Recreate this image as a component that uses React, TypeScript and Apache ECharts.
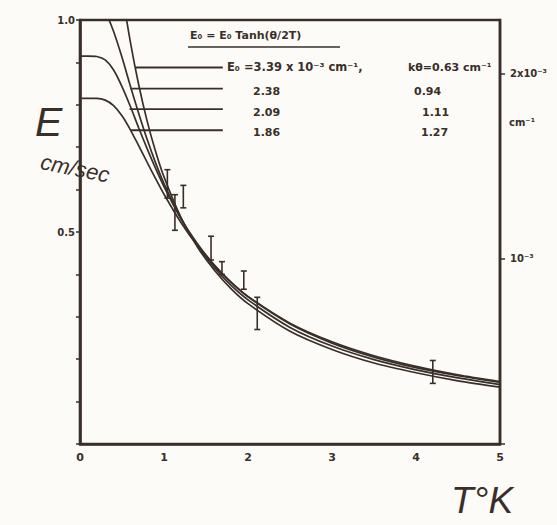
import React, { useEffect, useRef } from "react";
import * as echarts from "echarts";

const INK = "#3a2f28";
const BG = "#fcfbf8";

// temperatures (K) at which the fitted curves were read
const temps = [0, 0.1, 0.2, 0.3, 0.4, 0.5, 0.6, 0.7, 0.8, 0.9, 1.0, 1.2, 1.4, 1.6, 1.8, 2.0, 2.5, 3.0, 3.5, 4.0, 4.5, 5.0];
// E (cm/sec) for the four fitted curves
const curve339 = [1.485, 1.485, 1.453, 1.347, 1.206, 1.068, 0.948, 0.846, 0.761, 0.69, 0.63, 0.535, 0.464, 0.41, 0.366, 0.331, 0.266, 0.223, 0.191, 0.168, 0.149, 0.134];
const curve238 = [1.042, 1.042, 1.04, 1.019, 0.973, 0.912, 0.844, 0.779, 0.718, 0.663, 0.614, 0.532, 0.468, 0.416, 0.374, 0.34, 0.275, 0.231, 0.199, 0.175, 0.156, 0.14];
const curve209 = [0.915, 0.915, 0.914, 0.906, 0.882, 0.843, 0.796, 0.745, 0.696, 0.65, 0.607, 0.532, 0.472, 0.422, 0.381, 0.347, 0.283, 0.238, 0.205, 0.18, 0.161, 0.145];
const curve186 = [0.815, 0.815, 0.815, 0.811, 0.798, 0.774, 0.741, 0.703, 0.664, 0.626, 0.589, 0.523, 0.467, 0.421, 0.381, 0.348, 0.285, 0.241, 0.208, 0.183, 0.163, 0.147];

// measured points: T, low, high
const pointT = [1.04, 1.13, 1.23, 1.56, 1.69, 1.95, 2.11, 4.2];
const pointLow = [0.58, 0.504, 0.557, 0.434, 0.4, 0.365, 0.27, 0.143];
const pointHigh = [0.647, 0.588, 0.61, 0.49, 0.43, 0.408, 0.346, 0.197];

// legend leader lines (E level, start T, end T)
const leaderE = [0.888, 0.838, 0.79, 0.74];
const leaderStart = [0.66, 0.6, 0.59, 0.6];
const leaderEnd = 1.7;

const xTicks = ["0", "1", "2", "3", "4", "5"];

export default function App() {
  const ref = useRef<HTMLDivElement>(null);
  useEffect(() => {
    document.body.style.margin = "0";
    const chart = echarts.init(ref.current!, undefined, { renderer: "svg" });
    const curves = [curve339, curve238, curve209, curve186];
    const curveSeries = curves.map((c) => ({
      type: "line",
      data: temps.map((t, i) => [t, c[i]]),
      smooth: 0.25,
      showSymbol: false,
      lineStyle: { color: INK, width: 1.7 },
      clip: true,
      silent: true,
    }));
    const leaderSeries = leaderE.map((e, i) => ({
      type: "line",
      data: [
        [leaderStart[i], e],
        [leaderEnd, e],
      ],
      showSymbol: false,
      lineStyle: { color: INK, width: 1.8 },
      silent: true,
    }));
    const errData = pointT.map((t, i) => [t, pointLow[i], pointHigh[i]]);
    const font = (s: number, w = "bold") => `${w} ${s}px "DejaVu Sans"`;
    const hand = (s: number) => `italic ${s}px "Liberation Sans"`;
    const txt = (text: string, x: number, y: number, f: string, extra: any = {}) => ({
      type: "text",
      x,
      y,
      ...extra,
      style: { text, font: f, fill: INK, textVerticalAlign: "middle", ...(extra.style || {}) },
    });
    chart.setOption({
      animation: false,
      backgroundColor: BG,
      grid: { left: 80, right: 57, top: 20, bottom: 81, show: true, borderColor: INK, borderWidth: 2.6, backgroundColor: "transparent" },
      xAxis: {
        type: "value",
        min: 0,
        max: 5,
        interval: 1,
        axisLine: { show: true, lineStyle: { color: INK, width: 2.6 } },
        axisTick: { show: false },
        splitLine: { show: false },
        axisLabel: { color: INK, fontSize: 11, fontWeight: "bold", fontFamily: "DejaVu Sans", margin: 8, formatter: (v: number) => xTicks[Math.round(v)] ?? "" },
      },
      yAxis: [
        {
          type: "value",
          min: 0,
          max: 1,
          interval: 0.1,
          axisLine: { show: true, lineStyle: { color: INK, width: 2.6 } },
          axisTick: { show: true, length: 4, lineStyle: { color: INK, width: 1.5 } },
          splitLine: { show: false },
          axisLabel: {
            color: INK,
            fontSize: 10,
            fontWeight: "bold",
            fontFamily: "DejaVu Sans",
            margin: 5,
            formatter: (v: number) => (Math.abs(v - 0.5) < 1e-6 ? "0.5" : Math.abs(v - 1) < 1e-6 ? "1.0" : ""),
          },
        },
        {
          type: "value",
          position: "right",
          min: 0,
          max: 0.00229,
          interval: 0.001,
          axisLine: { show: true, lineStyle: { color: INK, width: 2.4 } },
          axisTick: { show: true, length: 5, lineStyle: { color: INK, width: 1.5 } },
          splitLine: { show: false },
          axisLabel: {
            color: INK,
            fontSize: 10,
            fontWeight: "bold",
            fontFamily: "DejaVu Sans",
            margin: 10,
            showMaxLabel: false,
            formatter: (v: number) => (Math.abs(v - 0.001) < 1e-9 ? "10⁻³" : Math.abs(v - 0.002) < 1e-9 ? "2x10⁻³" : ""),
          },
        },
      ],
      series: [
        ...curveSeries,
        ...leaderSeries,
        {
          type: "custom",
          data: errData,
          silent: true,
          renderItem: (params: any, api: any) => {
            const t = api.value(0);
            const lo = api.coord([t, api.value(1)]);
            const hi = api.coord([t, api.value(2)]);
            const st = { stroke: INK, lineWidth: 1.6 };
            return {
              type: "group",
              children: [
                { type: "line", shape: { x1: lo[0], y1: lo[1], x2: hi[0], y2: hi[1] }, style: st },
                { type: "line", shape: { x1: lo[0] - 3, y1: lo[1], x2: lo[0] + 3, y2: lo[1] }, style: st },
                { type: "line", shape: { x1: hi[0] - 3, y1: hi[1], x2: hi[0] + 3, y2: hi[1] }, style: st },
              ],
            };
          },
        },
      ],
      graphic: [
        txt("E₀ = E₀ Tanh(θ/2T)", 190, 35, font(11)),
        { type: "line", shape: { x1: 188, y1: 47, x2: 340, y2: 47 }, style: { stroke: INK, lineWidth: 1.5 } },
        txt("E₀ =3.39 x 10⁻³ cm⁻¹,", 227, 67, font(11.5)),
        txt("kθ=0.63 cm⁻¹", 408, 67, font(11)),
        txt("2.38", 253, 91, font(11)),
        txt("0.94", 414, 91, font(11)),
        txt("2.09", 253, 112, font(11)),
        txt("1.11", 422, 112, font(11)),
        txt("1.86", 253, 132, font(11)),
        txt("1.27", 421, 132, font(11)),
        txt("cm⁻¹", 509, 122, font(10)),
        txt("E", 35, 122, hand(41)),
        txt("cm/sec", 9, 160, hand(22), { rotation: -0.2, originX: 9, originY: 160 }),
        txt("T°K", 451, 500, hand(37)),
      ],
    });
    return () => chart.dispose();
  }, []);
  return <div ref={ref} style={{ width: 557, height: 525 }} />;
}
